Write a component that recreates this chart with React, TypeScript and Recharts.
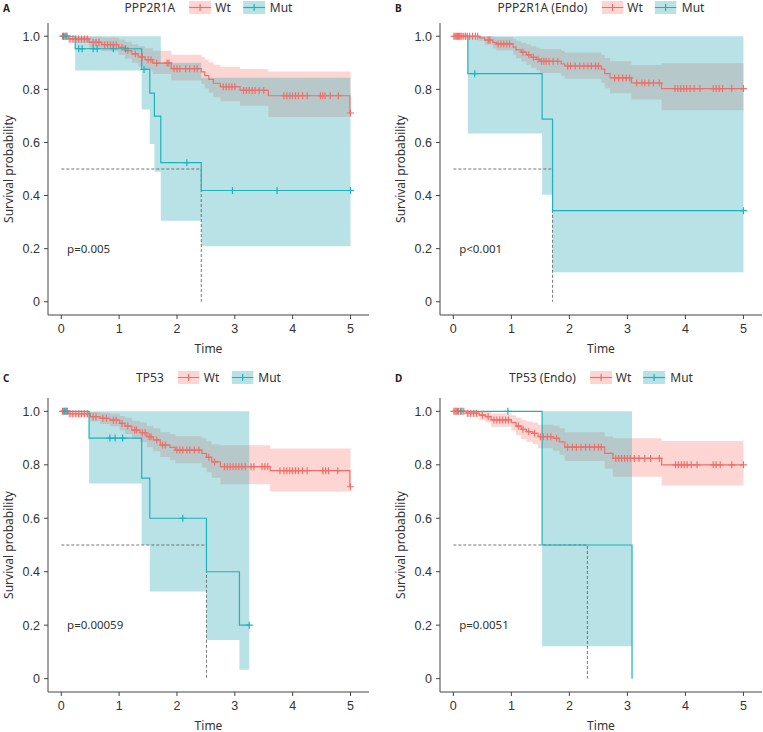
import { ComposedChart, Line, Area, Scatter, XAxis, YAxis } from "recharts"

const WT = "#EF6F68"
const MUT = "#1DB2BD"
const WT_FILL = "#F8766D"
const MUT_FILL = "#3AAFB9"
const AXIS = "#444"
const TEXT = "#333"
const SANS = "'Noto Sans', 'Open Sans', sans-serif"
const TICK_FONT = "'Liberation Sans', Arial, sans-serif"

const X_TICKS = [0, 1, 2, 3, 4, 5]
const Y_TICKS = [0, 0.2, 0.4, 0.6, 0.8, 1]

// ---- A: PPP2R1A ----
const aWtTime = [0, 0.12, 0.48, 0.7, 0.99, 1.1, 1.22, 1.33, 1.45, 1.58, 1.9, 2.42, 2.48, 2.55, 2.63, 2.75, 3.09, 3.58, 4.99]
const aWtSurv = [1, 0.99, 0.977, 0.968, 0.958, 0.946, 0.934, 0.922, 0.912, 0.899, 0.878, 0.866, 0.852, 0.838, 0.823, 0.81, 0.796, 0.776, 0.711]
const aWtLow = [1, 0.975, 0.957, 0.944, 0.93, 0.915, 0.9, 0.886, 0.874, 0.858, 0.833, 0.82, 0.804, 0.787, 0.77, 0.755, 0.738, 0.696, 0.696]
const aWtHigh = [1, 1, 0.998, 0.995, 0.988, 0.979, 0.97, 0.962, 0.955, 0.945, 0.93, 0.922, 0.912, 0.902, 0.893, 0.885, 0.877, 0.867, 0.867]
const aWtCensor = [0.02, 0.05, 0.08, 0.1, 0.15, 0.2, 0.25, 0.3, 0.35, 0.4, 0.45, 0.55, 0.6, 0.65, 0.75, 0.8, 0.85, 0.9, 0.95, 1.05, 1.15, 1.28, 1.4, 1.5, 1.55, 1.65, 1.83, 1.86, 1.95, 2.0, 2.05, 2.15, 2.22, 2.3, 2.35, 2.8, 2.85, 2.9, 2.95, 3.0, 3.15, 3.2, 3.25, 3.3, 3.35, 3.42, 3.5, 3.85, 3.9, 3.95, 4.0, 4.05, 4.1, 4.17, 4.25, 4.48, 4.52, 4.56, 4.65, 4.79, 5.0]
const aMutTime = [0, 0.24, 1.39, 1.53, 1.61, 1.72, 2.42]
const aMutSurv = [1, 0.953, 0.875, 0.786, 0.699, 0.524, 0.419]
const aMutLow = [1, 0.871, 0.724, 0.594, 0.49, 0.305, 0.209]
const aMutHigh = [1, 1, 1, 1, 1, 0.9, 0.844]
const aMutCensor = [0.04, 0.08, 0.3, 0.36, 0.55, 0.62, 0.9, 1.11, 1.43, 2.17, 2.96, 3.73, 5.0]

// ---- B: PPP2R1A (Endo) ----
const bWtTime = [0, 0.45, 0.54, 0.68, 0.74, 1.03, 1.08, 1.17, 1.26, 1.34, 1.43, 1.49, 1.86, 1.92, 2.55, 2.61, 2.7, 3.07, 3.59]
const bWtSurv = [1, 0.994, 0.986, 0.977, 0.971, 0.959, 0.949, 0.94, 0.93, 0.921, 0.913, 0.906, 0.896, 0.888, 0.876, 0.859, 0.843, 0.824, 0.803]
const bWtLow = [1, 0.982, 0.968, 0.955, 0.946, 0.93, 0.917, 0.905, 0.893, 0.881, 0.871, 0.862, 0.85, 0.84, 0.825, 0.804, 0.785, 0.762, 0.721]
const bWtHigh = [1, 1, 1, 0.998, 0.996, 0.99, 0.983, 0.976, 0.969, 0.962, 0.957, 0.952, 0.945, 0.939, 0.93, 0.918, 0.906, 0.892, 0.898]
const bWtCensor = [0.01, 0.03, 0.05, 0.07, 0.09, 0.11, 0.13, 0.15, 0.18, 0.21, 0.24, 0.28, 0.33, 0.38, 0.42, 0.6, 0.63, 0.77, 0.82, 0.87, 0.92, 0.97, 1.2, 1.3, 1.38, 1.46, 1.52, 1.56, 1.6, 1.65, 1.72, 1.8, 1.97, 2.02, 2.1, 2.18, 2.25, 2.32, 2.38, 2.45, 2.5, 2.78, 2.85, 2.92, 2.98, 3.04, 3.16, 3.25, 3.3, 3.37, 3.45, 3.55, 3.82, 3.87, 3.92, 3.97, 4.02, 4.08, 4.15, 4.25, 4.48, 4.53, 4.58, 4.64, 4.8, 5.0]
const bMutTime = [0, 0.25, 1.53, 1.71]
const bMutSurv = [1, 0.859, 0.688, 0.343]
const bMutLow = [1, 0.634, 0.403, 0.111]
const bMutHigh = [1, 1, 1, 1]
const bMutCensor = [0.37, 5.0]

// ---- C: TP53 ----
const cWtTime = [0, 0.12, 0.5, 0.67, 0.84, 1.01, 1.1, 1.22, 1.36, 1.48, 1.59, 1.71, 1.88, 1.97, 2.43, 2.51, 2.6, 2.75, 3.61, 4.99]
const cWtSurv = [1, 0.991, 0.98, 0.974, 0.967, 0.955, 0.945, 0.93, 0.92, 0.905, 0.893, 0.874, 0.865, 0.855, 0.843, 0.828, 0.811, 0.793, 0.778, 0.718]
const cWtLow = [1, 0.978, 0.962, 0.953, 0.944, 0.928, 0.915, 0.897, 0.884, 0.866, 0.851, 0.829, 0.818, 0.806, 0.79, 0.772, 0.752, 0.727, 0.7, 0.7]
const cWtHigh = [1, 1, 0.998, 0.995, 0.991, 0.983, 0.976, 0.965, 0.958, 0.946, 0.937, 0.922, 0.915, 0.907, 0.899, 0.888, 0.876, 0.873, 0.861, 0.861]
const cWtCensor = [0.02, 0.04, 0.06, 0.08, 0.1, 0.15, 0.2, 0.25, 0.3, 0.35, 0.4, 0.45, 0.55, 0.6, 0.72, 0.78, 0.9, 0.95, 1.05, 1.15, 1.27, 1.3, 1.4, 1.45, 1.52, 1.55, 1.65, 1.75, 1.8, 2.0, 2.05, 2.1, 2.17, 2.22, 2.3, 2.38, 2.55, 2.65, 2.82, 2.87, 2.92, 2.97, 3.02, 3.07, 3.12, 3.18, 3.28, 3.33, 3.47, 3.52, 3.57, 3.78, 3.85, 3.9, 3.95, 4.0, 4.05, 4.1, 4.17, 4.25, 4.52, 4.57, 4.62, 4.78, 5.0]
const cMutTime = [0, 0.48, 1.39, 1.53, 2.51, 3.08]
const cMutSurv = [1, 0.9, 0.75, 0.6, 0.4, 0.2]
const cMutLow = [1, 0.73, 0.5, 0.326, 0.145, 0.033]
const cMutHigh = [1, 1, 1, 1, 1, 1]
const cMutCensor = [0.06, 0.1, 0.84, 0.93, 1.06, 2.1, 3.25]

// ---- D: TP53 (Endo) ----
const dWtTime = [0, 0.22, 0.45, 0.56, 0.65, 1.0, 1.08, 1.17, 1.26, 1.37, 1.46, 1.72, 1.83, 1.92, 2.61, 2.75, 3.59]
const dWtSurv = [1, 0.993, 0.986, 0.98, 0.968, 0.958, 0.945, 0.933, 0.924, 0.918, 0.905, 0.899, 0.886, 0.866, 0.843, 0.824, 0.8]
const dWtLow = [1, 0.979, 0.967, 0.958, 0.942, 0.928, 0.912, 0.897, 0.886, 0.878, 0.862, 0.853, 0.838, 0.814, 0.785, 0.755, 0.723]
const dWtHigh = [1, 1, 1, 0.998, 0.992, 0.985, 0.977, 0.968, 0.962, 0.958, 0.95, 0.946, 0.937, 0.922, 0.906, 0.899, 0.889]
const dWtCensor = [0.01, 0.03, 0.05, 0.07, 0.09, 0.12, 0.15, 0.18, 0.25, 0.3, 0.35, 0.4, 0.5, 0.6, 0.7, 0.75, 0.8, 0.85, 0.9, 0.95, 1.12, 1.2, 1.3, 1.4, 1.5, 1.55, 1.62, 1.68, 1.78, 1.97, 2.05, 2.12, 2.2, 2.28, 2.35, 2.43, 2.5, 2.55, 2.8, 2.85, 2.9, 2.95, 3.0, 3.05, 3.12, 3.2, 3.3, 3.4, 3.55, 3.83, 3.88, 3.93, 3.98, 4.03, 4.1, 4.2, 4.48, 4.53, 4.6, 4.8, 5.0]
const dMutTime = [0, 1.53, 3.08]
const dMutSurv = [1, 0.5, 0]
const dMutLow = [1, 0.121, 0]
const dMutHigh = [1, 1, 0]
const dMutCensor = [0.13, 0.94]

const medians = [2.42, 1.71, 2.51, 2.31]
const pValues = ["p=0.005", "p<0.001", "p=0.00059", "p=0.0051"]
const genes = ["PPP2R1A", "PPP2R1A (Endo)", "TP53", "TP53 (Endo)"]

interface Curve {
  time: number[]
  surv: number[]
  low: number[]
  high: number[]
  end: number
  censor: number[]
}

function stepPoints(c: Curve) {
  const pts = c.time.map((t, i) => ({ t, s: c.surv[i], lo: c.low[i], hi: c.high[i] }))
  const last = pts[pts.length - 1]
  if (c.end > last.t) pts.push({ ...last, t: c.end })
  return pts
}

function survAt(c: Curve, t: number) {
  let s = c.surv[0]
  c.time.forEach((ti, i) => {
    if (ti <= t) s = c.surv[i]
  })
  return s
}

const cross = (color: string) => (props: any) => {
  const { cx, cy } = props
  return (
    <path
      d={`M${cx - 3.5},${cy}H${cx + 3.5}M${cx},${cy - 3.5}V${cy + 3.5}`}
      stroke={color}
      strokeWidth={1.2}
      fill="none"
    />
  )
}

const pLabel = (text: string) => (props: any) => (
  <text x={props.cx} y={props.cy} dy={4} fontSize={11.5} fontFamily={SANS} fill={TEXT}>
    {text}
  </text>
)

function LegendKey({ color, fill, opacity }: { color: string; fill: string; opacity: number }) {
  return (
    <svg width={22} height={13} style={{ display: "block" }}>
      <rect x={0} y={0} width={22} height={13} fill={fill} fillOpacity={opacity} />
      <line x1={0} y1={6.5} x2={22} y2={6.5} stroke={color} strokeWidth={1.2} />
      <line x1={11} y1={3} x2={11} y2={10} stroke={color} strokeWidth={1.2} />
    </svg>
  )
}

interface PanelProps {
  left: number
  top: number
  width: number
  height: number
  marginTop: number
  marginRight: number
  letter: string
  gene: string
  p: string
  median: number
  wt: Curve
  mut: Curve
}

function Panel({ left, top, width, height, marginTop, marginRight, letter, gene, p, median, wt, mut }: PanelProps) {
  const wtPts = stepPoints(wt)
  const mutPts = stepPoints(mut)
  const wtCens = wt.censor.map(t => ({ t, s: survAt(wt, t) }))
  const mutCens = mut.censor.map(t => ({ t, s: survAt(mut, t) }))
  const medianPts = [
    { t: 0, s: 0.5 },
    { t: median, s: 0.5 },
    { t: median, s: 0 }
  ]

  const plotLeft = left + 48
  const plotRight = left + width - marginRight
  const plotTop = top + marginTop
  const plotBottom = top + height - 36
  const centerX = (plotLeft + plotRight) / 2
  const centerY = (plotTop + plotBottom) / 2
  const tickStyle = { fill: TEXT, fontSize: 12.5, fontFamily: TICK_FONT }

  return (
    <>
      <div style={{ position: "absolute", left, top }}>
        <ComposedChart width={width} height={height} margin={{ top: marginTop, right: marginRight, bottom: 0, left: 0 }}>
          <XAxis
            type="number"
            dataKey="t"
            domain={[-0.23, 5.32]}
            ticks={X_TICKS}
            allowDataOverflow
            height={36}
            tickSize={4}
            tickMargin={5}
            stroke={AXIS}
            tick={tickStyle}
          />
          <YAxis
            type="number"
            dataKey="s"
            domain={[-0.05, 1.05]}
            ticks={Y_TICKS}
            allowDataOverflow
            width={48}
            tickSize={4}
            tickMargin={4}
            stroke={AXIS}
            tick={tickStyle}
            tickFormatter={(v: number) => (v === 0 ? "0" : v.toFixed(1))}
          />
          <Area data={wtPts} dataKey={(d: any) => [d.lo, d.hi]} type="stepAfter" stroke="none" fill={WT_FILL} fillOpacity={0.3} isAnimationActive={false} />
          <Area data={mutPts} dataKey={(d: any) => [d.lo, d.hi]} type="stepAfter" stroke="none" fill={MUT_FILL} fillOpacity={0.36} isAnimationActive={false} />
          <Line data={medianPts} dataKey="s" type="linear" stroke="#555" strokeWidth={0.8} strokeDasharray="3 2" dot={false} isAnimationActive={false} />
          <Line data={wtPts} dataKey="s" type="stepAfter" stroke={WT} strokeWidth={1.2} dot={false} isAnimationActive={false} />
          <Line data={mutPts} dataKey="s" type="stepAfter" stroke={MUT} strokeWidth={1.2} dot={false} isAnimationActive={false} />
          <Scatter data={wtCens} shape={cross(WT)} isAnimationActive={false} />
          <Scatter data={mutCens} shape={cross(MUT)} isAnimationActive={false} />
          <Scatter data={[{ t: 0.1, s: 0.2 }]} shape={pLabel(p)} isAnimationActive={false} />
        </ComposedChart>
      </div>

      <div style={{ position: "absolute", left: left + 3, top: top + 1, fontFamily: SANS, fontWeight: 700, fontSize: 10, color: "#222" }}>
        {letter}
      </div>

      <div
        style={{
          position: "absolute",
          left: centerX,
          top: top,
          transform: "translateX(-50%)",
          display: "flex",
          alignItems: "center",
          height: 14,
          fontFamily: SANS,
          fontSize: 12,
          color: TEXT,
          whiteSpace: "nowrap"
        }}
      >
        <span style={{ marginRight: 14 }}>{gene}</span>
        <LegendKey color={WT} fill={WT_FILL} opacity={0.3} />
        <span style={{ marginLeft: 4, marginRight: 12 }}>Wt</span>
        <LegendKey color={MUT} fill={MUT_FILL} opacity={0.36} />
        <span style={{ marginLeft: 5 }}>Mut</span>
      </div>

      <div
        style={{
          position: "absolute",
          left: left + 7.5,
          top: centerY,
          transform: "translate(-50%, -50%) rotate(-90deg)",
          fontFamily: SANS,
          fontSize: 12,
          lineHeight: "13px",
          color: TEXT,
          whiteSpace: "nowrap"
        }}
      >
        Survival probability
      </div>

      <div
        style={{
          position: "absolute",
          left: centerX,
          top: plotBottom + 33.5,
          transform: "translate(-50%, -50%)",
          fontFamily: SANS,
          fontSize: 12,
          lineHeight: "12px",
          color: TEXT
        }}
      >
        Time
      </div>
    </>
  )
}

const curves: Curve[][] = [
  [
    { time: aWtTime, surv: aWtSurv, low: aWtLow, high: aWtHigh, end: 5, censor: aWtCensor },
    { time: aMutTime, surv: aMutSurv, low: aMutLow, high: aMutHigh, end: 5, censor: aMutCensor }
  ],
  [
    { time: bWtTime, surv: bWtSurv, low: bWtLow, high: bWtHigh, end: 5, censor: bWtCensor },
    { time: bMutTime, surv: bMutSurv, low: bMutLow, high: bMutHigh, end: 5, censor: bMutCensor }
  ],
  [
    { time: cWtTime, surv: cWtSurv, low: cWtLow, high: cWtHigh, end: 5, censor: cWtCensor },
    { time: cMutTime, surv: cMutSurv, low: cMutLow, high: cMutHigh, end: 3.25, censor: cMutCensor }
  ],
  [
    { time: dWtTime, surv: dWtSurv, low: dWtLow, high: dWtHigh, end: 5, censor: dWtCensor },
    { time: dMutTime, surv: dMutSurv, low: dMutLow, high: dMutHigh, end: 3.08, censor: dMutCensor }
  ]
]

const layout = [
  { left: 0, top: 0, width: 380, height: 351, marginTop: 23, marginRight: 11, letter: "A" },
  { left: 392, top: 0, width: 371, height: 351, marginTop: 23, marginRight: 1, letter: "B" },
  { left: 0, top: 370, width: 380, height: 358, marginTop: 28, marginRight: 11, letter: "C" },
  { left: 392, top: 370, width: 371, height: 358, marginTop: 28, marginRight: 1, letter: "D" }
]

export default function App() {
  return (
    <div style={{ position: "absolute", left: 0, top: 0, width: 763, height: 732, overflow: "hidden", background: "#fff" }}>
      {layout.map((l, i) => (
        <Panel
          key={l.letter}
          {...l}
          gene={genes[i]}
          p={pValues[i]}
          median={medians[i]}
          wt={curves[i][0]}
          mut={curves[i][1]}
        />
      ))}
    </div>
  )
}
